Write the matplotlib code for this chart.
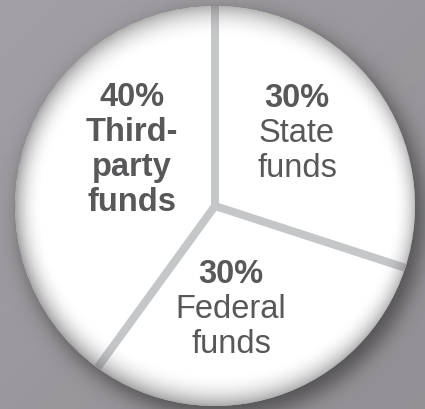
import numpy as np
import matplotlib
matplotlib.use("Agg")
import matplotlib.pyplot as plt

# ---- data ----
categories = ["State funds", "Federal funds", "Third-party funds"]
values = [30, 30, 40]
pct_labels = ["30%", "30%", "40%"]
name_lines = [["State", "funds"], ["Federal", "funds"], ["Third-", "party", "funds"]]
name_bold = [False, False, True]

# ---- layout (pixels, y measured upward) ----
W, H = 425, 410
cx, cy, R = 215, 203, 200
label_pos = [(297, 410 - 107), (231, 410 - 283), (132, 410 - 106)]  # x, first baseline
line_step = 35
txt_color = "#58585a"
sep_color = "#c5c6c8"
bg_color = "#a3a0a5"

fig = plt.figure(figsize=(W / 100, H / 100), dpi=100)
fig.patch.set_facecolor(bg_color)
ax = fig.add_axes([0, 0, 1, 1])
ax.set_facecolor(bg_color)

xx, yy = np.meshgrid(np.arange(W) + 0.5, np.arange(H) + 0.5)

# subtle background shading (lighter top-left)
bgshade = np.zeros((H, W, 4))
bgshade[..., 3] = 0.10 * np.clip((xx / W + (H - yy) / H) / 2, 0, 1)
ax.imshow(bgshade, extent=(0, W, 0, H), origin="lower", zorder=0.2, interpolation="bilinear")

# drop shadow
sx, sy = cx + 7, cy - 9
ds = np.hypot(xx - sx, yy - sy)
a_s = 0.6 / (1 + np.exp((ds - R - 2) / 6.0))
shadow = np.zeros((H, W, 4))
shadow[..., :3] = 0.15
shadow[..., 3] = a_s
ax.imshow(shadow, extent=(0, W, 0, H), origin="lower", zorder=0.5, interpolation="bilinear")

# pie
wedges, _ = ax.pie(values, startangle=90, counterclock=False, colors=["white"] * 3,
                   radius=R, center=(cx, cy), wedgeprops=dict(linewidth=0, zorder=1))

# separators
angles = sorted({round(w.theta1 % 360, 6) for w in wedges} | {round(w.theta2 % 360, 6) for w in wedges})
for a in angles:
    t = np.deg2rad(a)
    ax.plot([cx, cx + R * np.cos(t)], [cy, cy + R * np.sin(t)], color=sep_color,
            lw=8 * 0.72, solid_capstyle="butt", zorder=2)

# rim shading (bevel)
d = np.hypot(xx - cx, yy - cy)
phi = np.arctan2(yy - cy, xx - cx)
# width and strength vary with direction: wide/dark at bottom & top-left, narrow at right
wdt = 22 + 8 * np.sin(phi - np.deg2rad(0)) ** 2 + 6 * (1 - np.cos(phi)) / 2
t = np.clip((d - (R - wdt)) / wdt, 0, 1)
amax = 0.42 + 0.16 * (1 - np.cos(phi)) / 2 + 0.06 * (-np.sin(phi)).clip(0)
inside = np.clip(R - d + 0.5, 0, 1)
rim = np.zeros((H, W, 4))
rim[..., :3] = 0x66 / 255
rim[..., 3] = amax * t ** 2.2 * inside
ax.imshow(rim, extent=(0, W, 0, H), origin="lower", zorder=3, interpolation="bilinear")

# labels
fs = 23.5
for (x, y0), pct, lines, bold in zip(label_pos, pct_labels, name_lines, name_bold):
    ax.text(x, y0, pct, ha="center", va="baseline", fontsize=fs, fontweight="bold",
            color=txt_color, family="Liberation Sans", zorder=4)
    for i, ln in enumerate(lines):
        ax.text(x, y0 - line_step * (i + 1), ln, ha="center", va="baseline", fontsize=fs,
                fontweight="bold" if bold else "normal", color=txt_color,
                family="Liberation Sans", zorder=4)

ax.set_xlim(0, W)
ax.set_ylim(0, H)
ax.set_aspect("auto")
ax.axis("off")
fig.savefig("out.png", dpi=100, facecolor=bg_color)
